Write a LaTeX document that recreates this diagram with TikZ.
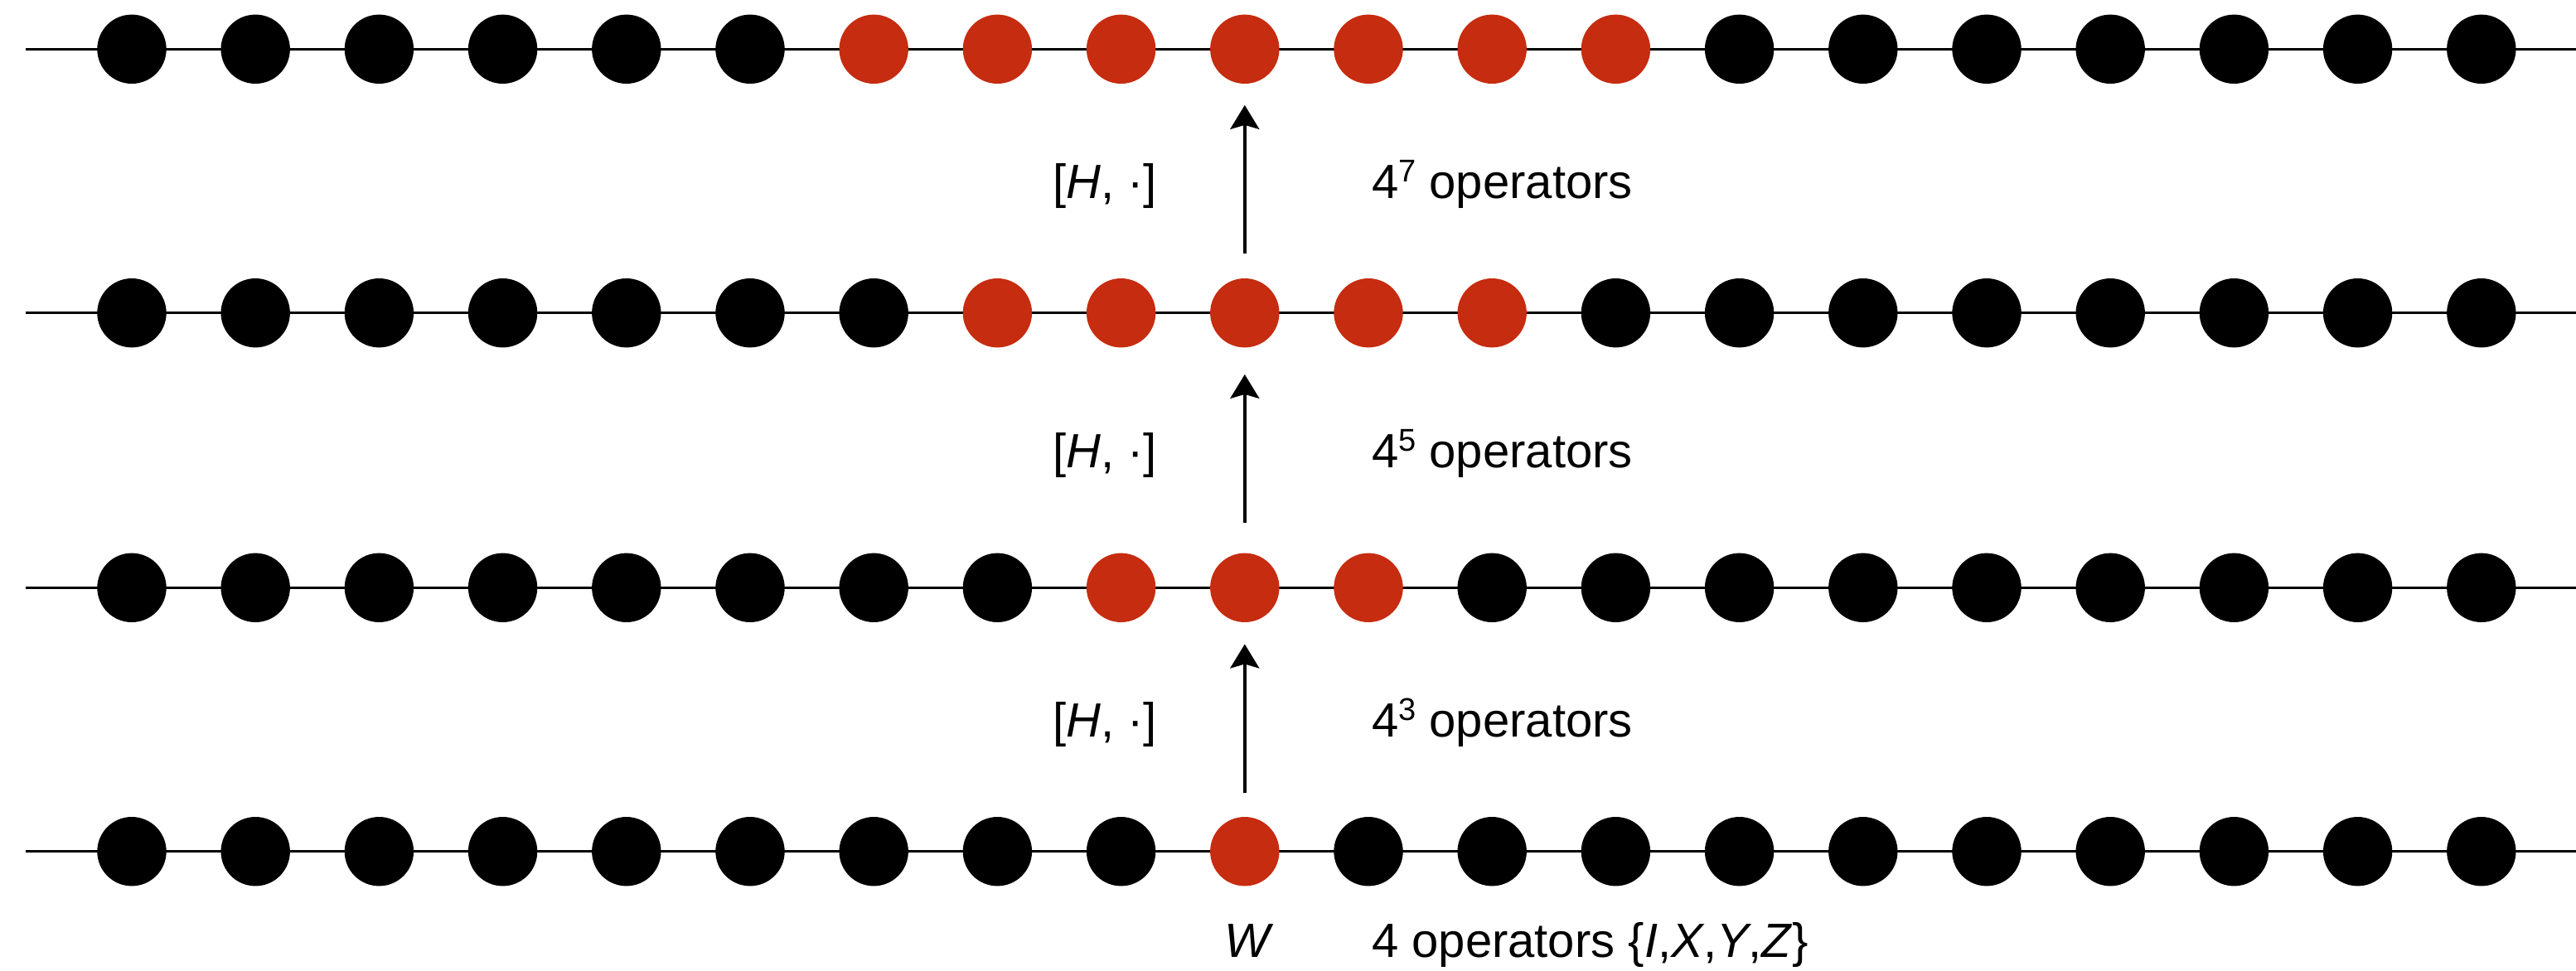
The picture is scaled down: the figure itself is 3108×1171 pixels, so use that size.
\documentclass[tikz,border=0pt]{standalone}
\usepackage{fontspec}
\setmainfont{Liberation Sans}
\usetikzlibrary{arrows.meta}
\definecolor{spinred}{RGB}{198,44,16}
% raised small exponent in text
\newcommand{\expo}[1]{\raisebox{20pt}{\fontsize{38}{38}\selectfont #1}}
\begin{document}
\begin{tikzpicture}[x=1pt,y=-1pt,
  site/.style={circle,fill=black,inner sep=0pt,minimum size=83.4pt},
  active/.style={site,fill=spinred},
  chain/.style={line width=3.3pt},
  stepup/.style={line width=3.5pt,-{Stealth[length=29pt,width=35pt,inset=5pt]}},
  lbl/.style={inner sep=0pt,font=\fontsize{58}{70}\selectfont}]
\useasboundingbox (0,0) rectangle (3108,1171);
% four spin chains; the red sites are the support of the operator
\foreach \r/\y/\lo/\hi in {1/59.3/6/12, 2/377.7/7/11, 3/709.3/8/10, 4/1027.7/9/9} {
  \coordinate (L-\r) at (31,\y);
  \coordinate (R-\r) at (3108,\y);
  \draw[chain] (L-\r) -- (R-\r);
  \foreach \i in {0,...,19} {
    \pgfmathsetmacro\px{159+149.2*\i}
    \pgfmathtruncatemacro\isred{and(\i>=\lo,\i<=\hi)}
    \ifnum\isred=1 \def\sty{active}\else\def\sty{site}\fi
    \node[\sty] (d-\r-\i) at (\px,\y) {};
  }
}
% commutator steps
\draw[stepup, shorten <=30pt, shorten >=25.7pt] (d-2-9) -- (d-1-9);
\draw[stepup, shorten <=36pt, shorten >=32.3pt] (d-3-9) -- (d-2-9);
\draw[stepup, shorten <=29.3pt, shorten >=26.3pt] (d-4-9) -- (d-3-9);
% labels
\node[lbl, anchor=base west] (c-1) at (1270,239.5) {[\textit{H}, ·]};
\node[lbl, anchor=base west] (n-1) at (1655,239.5) {4\expo{7} operators};
\node[lbl, anchor=base west] (c-2) at (1270,564.5) {[\textit{H}, ·]};
\node[lbl, anchor=base west] (n-2) at (1655,564.5) {4\expo{5} operators};
\node[lbl, anchor=base west] (c-3) at (1270,889.5) {[\textit{H}, ·]};
\node[lbl, anchor=base west] (n-3) at (1655,889.5) {4\expo{3} operators};
\node[lbl, anchor=base] (w) at (1507,1155) {\textit{W}};
\node[lbl, anchor=base west] (n-4) at (1655,1155) {4 operators \{\textit{I},\textit{X},\textit{Y},\textit{Z}\}};
\end{tikzpicture}
\end{document}
